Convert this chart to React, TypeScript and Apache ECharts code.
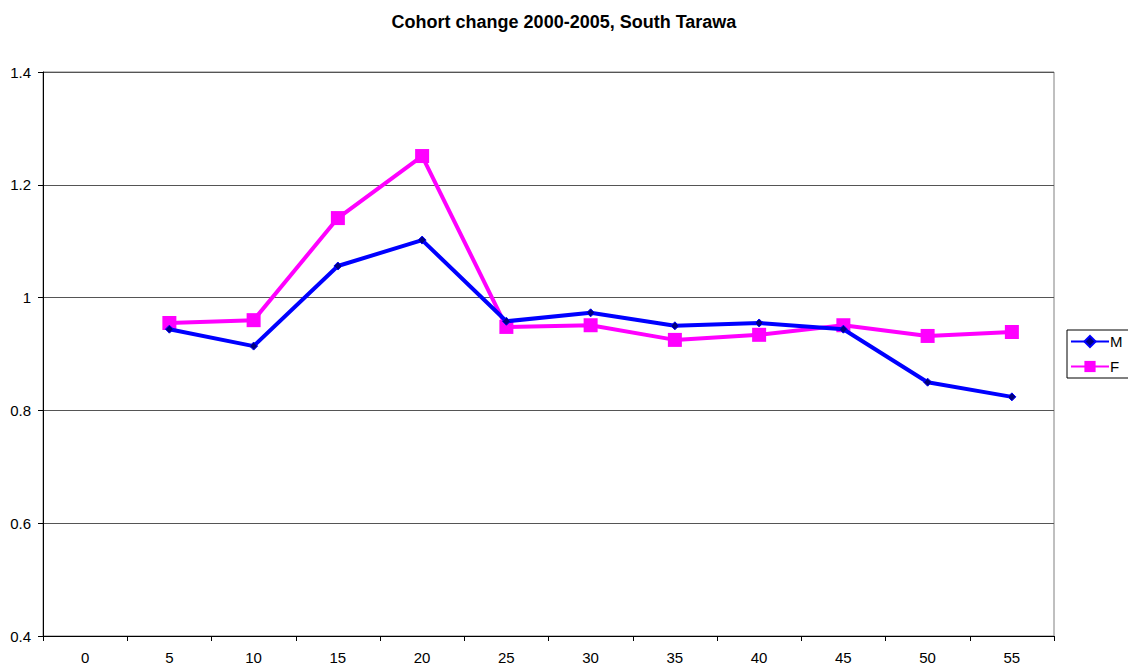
import React, { useEffect, useRef } from "react";
import * as echarts from "echarts";

const categories = ["0", "5", "10", "15", "20", "25", "30", "35", "40", "45", "50", "55"];
const maleValues = [null, 0.944, 0.914, 1.056, 1.102, 0.958, 0.973, 0.95, 0.955, 0.944, 0.85, 0.824];
const femaleValues = [null, 0.955, 0.96, 1.141, 1.251, 0.948, 0.951, 0.925, 0.934, 0.951, 0.932, 0.939];
const yTicks = { min: 0.4, max: 1.4, interval: 0.2 };

export default function App() {
  const ref = useRef<HTMLDivElement>(null);
  useEffect(() => {
    if (!ref.current) return;
    const chart = echarts.init(ref.current, null, { renderer: "svg" });
    const font = "'Liberation Sans', Arial, sans-serif";
    chart.setOption({
      animation: false,
      backgroundColor: "#fff",
      title: {
        text: "Cohort change 2000-2005, South Tarawa",
        left: "center",
        top: 8,
        textStyle: { fontFamily: font, fontSize: 18, fontWeight: "bold", color: "#000" },
      },
      grid: {
        left: 43,
        right: 74,
        top: 72,
        bottom: 35,
        show: true,
        borderColor: "#808080",
        borderWidth: 1,
      },
      legend: {
        orient: "vertical",
        left: 1067,
        top: 330,
        borderColor: "#000",
        borderWidth: 1,
        padding: [4, 30, 4, 3],
        itemWidth: 38,
        itemHeight: 14,
        itemGap: 10,
        textStyle: { fontFamily: font, fontSize: 15, color: "#000", padding: [0, 0, 0, -4] },
        data: ["M", "F"],
      },
      xAxis: {
        type: "category",
        data: categories,
        boundaryGap: true,
        axisLine: { lineStyle: { color: "#000", width: 1 } },
        axisTick: { show: true, alignWithLabel: false, length: 5, lineStyle: { color: "#000" } },
        axisLabel: { fontFamily: font, fontSize: 15, color: "#000", margin: 14 },
        splitLine: { show: false },
      },
      yAxis: {
        type: "value",
        min: yTicks.min,
        max: yTicks.max,
        interval: yTicks.interval,
        axisLine: { show: true, lineStyle: { color: "#000", width: 1 } },
        axisTick: { show: true, length: 5, lineStyle: { color: "#000" } },
        axisLabel: {
          fontFamily: font,
          fontSize: 15,
          color: "#000",
          margin: 12,
          formatter: (v: number) => String(Math.round(v * 10) / 10),
        },
        splitLine: { show: true, lineStyle: { color: "#555", width: 1 } },
      },
      series: [
        {
          name: "M",
          type: "line",
          data: maleValues,
          connectNulls: false,
          lineStyle: { color: "#0000FF", width: 4 },
          itemStyle: { color: "#000080", borderColor: "#0000FF", borderWidth: 1 },
          symbol: "diamond",
          symbolSize: 8,
          z: 3,
        },
        {
          name: "F",
          type: "line",
          data: femaleValues,
          connectNulls: false,
          lineStyle: { color: "#FF00FF", width: 4 },
          itemStyle: { color: "#FF00FF" },
          symbol: "rect",
          symbolSize: 14,
          z: 2,
        },
      ],
    });
    return () => chart.dispose();
  }, []);
  return (
    <div
      ref={ref}
      style={{ position: "absolute", left: 0, top: 0, width: 1128, height: 671, overflow: "hidden" }}
    />
  );
}
